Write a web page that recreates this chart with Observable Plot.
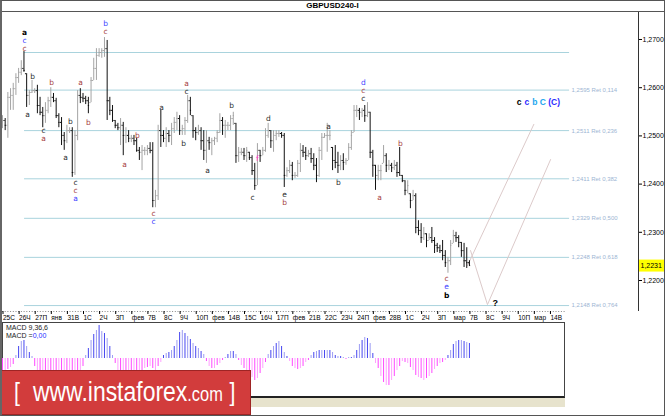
<!DOCTYPE html>
<html>
<head>
<meta charset="utf-8">
<script src="https://cdn.jsdelivr.net/npm/d3@7"></script>
<script src="https://cdn.jsdelivr.net/npm/@observablehq/plot@0.6"></script>
<style>
html,body{margin:0;padding:0;background:#fff;}
#chart{position:relative;width:665px;height:416px;overflow:hidden;background:#fff;font-family:"Liberation Sans",Arial,sans-serif;}
#chart > *{position:absolute;}
#border{left:0;top:0;width:665px;height:416px;box-sizing:border-box;border:1px solid #555;border-left:2px solid #666;z-index:5;pointer-events:none;}
#headline{left:0;top:11px;width:665px;height:1px;background:#555;}
#title{left:0;top:1px;width:665px;text-align:center;font-weight:bold;font-size:8px;line-height:10px;color:#000;}
#price{left:0;top:0;}
#macdbox{left:2px;top:322px;width:563px;height:76px;box-sizing:border-box;border:1px solid #444;border-bottom:2px solid #222;}
#beige{left:2px;top:398px;width:563px;height:9px;background:#e7e3cd;}
#macd{left:0;top:323px;}
#macdlabel{left:6px;top:324px;font-size:7px;line-height:7.5px;color:#222;white-space:nowrap;}
#banner{left:0;top:370px;z-index:4;}
</style>
</head>
<body>
<div id="chart">
  <div id="title">GBPUSD240-I</div>
  <div id="headline"></div>
  <div id="macdbox"></div>
  <div id="beige"></div>
  <div id="price"></div>
  <div id="macd"></div>
  <div id="macdlabel">MACD 9,36,6<br>MACD =<span style="color:#2a2aff">0,00</span></div>
  <svg id="banner" width="251" height="45">
    <rect x="0.5" y="0.5" width="250" height="44" fill="#d23c3c" stroke="#9e2424"></rect>
    <g transform="scale(0.82,1)">
      <text y="31" fill="#fff" font-family="Liberation Sans, Arial, sans-serif" font-size="28"><tspan x="17" font-size="26">[</tspan><tspan x="40.2">www.instaforex</tspan><tspan font-size="20">.com</tspan><tspan x="280" font-size="26">]</tspan></text>
    </g>
  </svg>
  <div id="border"></div>
</div>
<script>
// ---------- DATA (GBPUSD, H4 bars) ----------
const barsPerDay = 6;
const firstOpen = 1.2525;
const highs = [1.2542,1.2536,1.2590,1.2598,1.2609,1.2629,1.2640,1.2656,1.2675,1.2629,
1.2594,1.2615,1.2598,1.2605,1.2580,1.2559,1.2569,1.2580,1.2600,1.2588,
1.2578,1.2546,1.2538,1.2507,1.2522,1.2517,1.2517,1.2511,1.2594,1.2598,
1.2588,1.2582,1.2580,1.2621,1.2661,1.2681,1.2681,1.2681,1.2704,1.2698,
1.2580,1.2563,1.2532,1.2526,1.2536,1.2528,1.2517,1.2511,1.2501,1.2501,
1.2495,1.2476,1.2480,1.2476,1.2480,1.2486,1.2486,1.2387,1.2522,1.2553,
1.2511,1.2517,1.2511,1.2526,1.2538,1.2549,1.2542,1.2522,1.2538,1.2584,
1.2580,1.2542,1.2517,1.2522,1.2517,1.2511,1.2511,1.2497,1.2495,1.2497,
1.2511,1.2546,1.2538,1.2532,1.2528,1.2542,1.2549,1.2526,1.2476,1.2474,
1.2474,1.2476,1.2466,1.2459,1.2443,1.2484,1.2470,1.2476,1.2515,1.2526,
1.2511,1.2511,1.2511,1.2511,1.2507,1.2505,1.2434,1.2449,1.2445,1.2424,
1.2449,1.2484,1.2480,1.2476,1.2470,1.2474,1.2463,1.2453,1.2476,1.2505,
1.2505,1.2526,1.2511,1.2476,1.2480,1.2466,1.2459,1.2463,1.2453,1.2484,
1.2511,1.2563,1.2563,1.2557,1.2557,1.2563,1.2569,1.2549,1.2470,1.2439,
1.2439,1.2439,1.2480,1.2463,1.2449,1.2443,1.2449,1.2445,1.2476,1.2418,
1.2407,1.2407,1.2380,1.2387,1.2380,1.2324,1.2318,1.2310,1.2297,1.2297,
1.2310,1.2289,1.2277,1.2273,1.2283,1.2262,1.2248,1.2283,1.2304,1.2300,
1.2293,1.2279,1.2277,1.2268,1.2241];
const lows = [1.2515,1.2511,1.2495,1.2553,1.2553,1.2584,1.2609,1.2625,1.2632,1.2559,
1.2563,1.2588,1.2588,1.2546,1.2542,1.2517,1.2526,1.2546,1.2559,1.2569,
1.2536,1.2517,1.2480,1.2470,1.2484,1.2505,1.2414,1.2418,1.2490,1.2567,
1.2569,1.2565,1.2546,1.2569,1.2615,1.2615,1.2663,1.2661,1.2663,1.2532,
1.2542,1.2528,1.2515,1.2511,1.2480,1.2459,1.2484,1.2486,1.2486,1.2480,
1.2466,1.2449,1.2428,1.2459,1.2459,1.2463,1.2351,1.2351,1.2366,1.2476,
1.2486,1.2476,1.2486,1.2480,1.2505,1.2511,1.2501,1.2501,1.2501,1.2526,
1.2542,1.2495,1.2490,1.2501,1.2470,1.2449,1.2443,1.2470,1.2459,1.2480,
1.2486,1.2505,1.2501,1.2495,1.2511,1.2511,1.2522,1.2443,1.2445,1.2459,
1.2449,1.2445,1.2449,1.2418,1.2387,1.2397,1.2445,1.2459,1.2466,1.2495,
1.2474,1.2466,1.2490,1.2497,1.2495,1.2393,1.2414,1.2422,1.2407,1.2412,
1.2414,1.2424,1.2455,1.2449,1.2455,1.2443,1.2428,1.2403,1.2414,1.2449,
1.2495,1.2466,1.2490,1.2428,1.2432,1.2422,1.2428,1.2428,1.2439,1.2449,
1.2470,1.2507,1.2538,1.2532,1.2538,1.2528,1.2538,1.2453,1.2414,1.2387,
1.2407,1.2407,1.2443,1.2424,1.2428,1.2424,1.2428,1.2414,1.2418,1.2403,
1.2376,1.2380,1.2349,1.2366,1.2297,1.2293,1.2277,1.2283,1.2268,1.2283,
1.2277,1.2256,1.2258,1.2256,1.2241,1.2227,1.2215,1.2231,1.2277,1.2279,
1.2268,1.2248,1.2227,1.2225,1.2231];
const closes = [1.2532,1.2522,1.2580,1.2584,1.2598,1.2621,1.2632,1.2640,1.2636,1.2584,
1.2590,1.2594,1.2594,1.2563,1.2549,1.2542,1.2553,1.2573,1.2580,1.2573,
1.2542,1.2528,1.2501,1.2490,1.2511,1.2511,1.2424,1.2501,1.2584,1.2580,
1.2578,1.2573,1.2563,1.2615,1.2640,1.2667,1.2673,1.2677,1.2681,1.2573,
1.2553,1.2532,1.2522,1.2517,1.2522,1.2501,1.2501,1.2495,1.2495,1.2490,
1.2470,1.2466,1.2470,1.2470,1.2474,1.2470,1.2366,1.2376,1.2511,1.2501,
1.2495,1.2505,1.2501,1.2515,1.2528,1.2536,1.2511,1.2515,1.2532,1.2573,
1.2553,1.2511,1.2507,1.2511,1.2490,1.2470,1.2490,1.2486,1.2490,1.2495,
1.2507,1.2532,1.2522,1.2522,1.2522,1.2536,1.2542,1.2459,1.2466,1.2466,
1.2459,1.2470,1.2455,1.2428,1.2397,1.2470,1.2459,1.2470,1.2501,1.2511,
1.2490,1.2501,1.2505,1.2505,1.2501,1.2418,1.2428,1.2439,1.2418,1.2418,
1.2443,1.2470,1.2466,1.2459,1.2463,1.2453,1.2439,1.2418,1.2470,1.2497,
1.2501,1.2501,1.2501,1.2449,1.2445,1.2439,1.2449,1.2445,1.2449,1.2476,
1.2501,1.2553,1.2553,1.2549,1.2553,1.2542,1.2549,1.2466,1.2439,1.2418,
1.2428,1.2428,1.2459,1.2439,1.2439,1.2434,1.2439,1.2424,1.2418,1.2407,
1.2387,1.2397,1.2366,1.2376,1.2310,1.2304,1.2289,1.2297,1.2283,1.2289,
1.2283,1.2273,1.2268,1.2262,1.2252,1.2237,1.2241,1.2273,1.2293,1.2289,
1.2279,1.2262,1.2241,1.2237,1.2231];
// MACD(9,36,6) histogram, in units of 0.0001
const macdHist = [-12,-12,-11,-9,-6,3,12,17,18,12,
6,2,-8,-13,-15,-16,-17,-17,-16,-16,
-17,-18,-19,-20,-20,-20,-22,-20,-16,-12,
-8,3,10,18,24,28,33,27,25,20,
12,3,-5,-12,-15,-17,-18,-18,-17,-16,
-15,-13,-12,-10,-9,-8,-10,-12,-8,-4,
3,5,6,8,12,18,26,28,25,22,
19,15,12,10,7,4,-3,-8,-10,-10,
-7,-5,-2,1,4,7,7,4,-2,-7,
-10,-13,-16,-19,-22,-20,-15,-10,-4,4,
8,12,15,17,12,6,2,-3,-8,-10,
-11,-10,-8,-4,-2,3,6,7,8,8,
8,8,8,6,3,2,2,1,-1,1,
1,3,8,14,18,21,20,15,5,-5,
-10,-18,-24,-27,-27,-22,-18,-12,-8,-3,
-4,-5,-9,-12,-17,-19,-20,-22,-20,-18,
-15,-11,-8,-5,-4,-2,3,8,14,17,
18,18,17,16,15];
const dayLabels = ["25С","26Ч","27П","янв","31В","1С","2Ч","3П","фев","7В","8С","9Ч","10П","фев","14В",
"15С","16Ч","17П","фев","21В","22С","23Ч","24П","фев","28В","1С","2Ч","3П","мар","7В","8С","9Ч","10П","мар","14В"];
const priceTicks = [1.27, 1.26, 1.25, 1.24, 1.23, 1.22];
const fibPrices = [1.2673, 1.2595, 1.2511, 1.2411, 1.2329, 1.2248, 1.2148];
const fibRatios = [null, "0,114", "0,236", "0,382", "0,500", "0,618", "0,764"];
const fibStartDay = 1.37, fibEndDay = 35.22;
const lastPrice = 1.2231;
// Elliott wave labels: text, bar index, price, degree
const waveText  = ["a","c","c","b","a","c","a","b","b","a","c","c","a","a","b","b","c","b","a","c","c","a","c","a","b","a","b","c","f","d","e","b","a","b","d","c","c","a","b","c","e","b"];
const waveBar   = [8.2,8.2,8.2,11.2,9.3,15.3,15.3,18.3,25.3,23.5,27.2,27.2,27.2,29.1,32,38.4,38.4,50.3,45.5,56.3,56.3,59.3,68.6,68.6,67.5,76.4,85.4,93.2,95,99.1,105.1,105.1,121.5,125.2,134.5,134.5,134.5,140.5,148.3,165.5,165.5,165.5];
const wavePrice = [1.2715,1.2698,1.2681,1.2623,1.2544,1.2511,1.2495,1.2611,1.2530,1.2455,1.2403,1.2387,1.2370,1.2611,1.2528,1.2733,1.2717,1.2501,1.2441,1.2339,1.2322,1.2559,1.2592,1.2609,1.2484,1.2428,1.2563,1.2372,1.2453,1.2536,1.2378,1.2362,1.2519,1.2404,1.2611,1.2594,1.2578,1.2372,1.2484,1.2204,1.2188,1.2169];
const waveDegree= ["K","u","r","k","k","k","r","r","k","k","k","r","u","r","r","u","r","r","r","r","u","k","k","r","k","k","k","k","m","k","k","r","k","k","u","r","k","r","r","r","u","K"];
// forecast
const targetText = ["c","c","b","C","(C)"];
const targetAt = {day: 32.09, price: 1.2569};
const questionAt = {day: 30.6, price: 1.2154};
const projA = [{day: 28.88, price: 1.2231}, {day: 33.0, price: 1.2524}];
const projB = [{day: 29.07, price: 1.2262}, {day: 30.12, price: 1.2150}, {day: 34.04, price: 1.2451}];

// ---------- BUILD ----------
const fmt = p => p.toFixed(4).replace(".", ",");
const xMax = 39.5;
const yDomain = [1.21357, 1.27560];
const dateAxisEnd = 34.97;
const bars = highs.map((h, k) => {
  const l = lows[k], c = closes[k];
  const o0 = k ? closes[k - 1] : firstOpen;
  const o = Math.max(l, Math.min(h, o0));
  return {t: k / barsPerDay, h, l, o, c};
});
const up = bars.filter(b => b.c >= b.o), down = bars.filter(b => b.c < b.o);
const tk = 0.075;
const fibRows = fibPrices.map((price, i) => ({price, ratio: fibRatios[i]}));
const waveRows = waveText.map((s, i) => ({s, t: waveBar[i] / barsPerDay, p: wavePrice[i], g: waveDegree[i]}));
const degreeColor = {k: "#2a2a2a", r: "#a53c3c", u: "#3d3dff", m: "#ff30d0", K: "#000"};
const targetColors = ["#000", "#2b2bff", "#22a6ee", "#22a6ee", "#2b2bff"];
const targetDx = [0, 7.6, 15.6, 23.6, 35];

const barMarks = (rows, color) => [
  Plot.ruleX(rows, {x: "t", y1: "l", y2: "h", stroke: color}),
  Plot.ruleY(rows, {y: "o", x1: d => d.t - tk, x2: "t", stroke: color}),
  Plot.ruleY(rows, {y: "c", x1: "t", x2: d => d.t + tk, stroke: color})
];

const price = Plot.plot({
  width: 665, height: 323,
  marginTop: 12, marginBottom: 12, marginLeft: 2, marginRight: 27,
  x: {domain: [0, xMax], label: null, axis: null},
  y: {domain: yDomain, label: null, axis: null},
  style: {background: "transparent", fontFamily: "Liberation Sans, Arial, sans-serif", overflow: "visible"},
  marks: [
    Plot.ruleY(fibRows, {y: "price", x1: () => fibStartDay, x2: () => fibEndDay, stroke: "#a9d3dd"}),
    Plot.text(fibRows.filter(r => r.ratio), {x: () => fibEndDay, y: "price", text: r => `${fmt(r.price)} Ret ${r.ratio}`,
      textAnchor: "start", dx: 2, fontSize: 6, fill: "#9db5d3"}),
    Plot.line(projA, {x: "day", y: "price", stroke: "#dccaca", strokeWidth: 1}),
    Plot.line(projB, {x: "day", y: "price", stroke: "#dccaca", strokeWidth: 1}),
    ...barMarks(up, "#a4a4a4"),
    ...barMarks(down, "#111"),
    Plot.ruleY([lastPrice], {x1: () => xMax, x2: () => xMax + 27 / 16.1, stroke: "#ffff00", strokeWidth: 12}),
    Plot.ruleX([xMax], {stroke: "#333"}),
    Plot.axisY({ticks: priceTicks, anchor: "right", tickSize: 3, tickPadding: 1, tickFormat: fmt, fontSize: 7, label: null}),
    Plot.text([lastPrice], {x: () => xMax, y: d => d, text: d => fmt(d), textAnchor: "start", dx: 2, fontSize: 7, fill: "#000"}),
    Plot.ruleY([yDomain[0]], {x1: () => 0, x2: () => dateAxisEnd, stroke: "#888", strokeDasharray: "1,1.7"}),
    Plot.axisX({ticks: d3.range(dayLabels.length), tickFormat: i => dayLabels[i], anchor: "bottom", tickSize: 3, tickPadding: 1,
      textAnchor: "start", dx: 0.5, fontSize: 6.5, label: null}),
    ...Object.entries(degreeColor).map(([g, c]) => Plot.text(waveRows.filter(d => d.g === g),
      {x: "t", y: "p", text: "s", fill: c, fontSize: 7.5, fontFamily: "DejaVu Sans, sans-serif", fontWeight: g === "K" ? "bold" : "normal"})),
    ...targetText.map((s, i) => Plot.text([targetAt], {x: "day", y: "price", text: () => s, fill: targetColors[i],
      dx: targetDx[i], fontSize: 8.5, fontWeight: "bold"})),
    Plot.text([questionAt], {x: "day", y: "price", text: () => "?", fontWeight: "bold", fontSize: 9, fill: "#000"})
  ]
});
document.getElementById("price").appendChild(price);

const macdRows = macdHist.map((v, k) => ({t: k / barsPerDay, v, k}));
const macdColors = [["#4646f0", "#9c9cf3"], ["#ff48ff", "#ffa0ff"]];
const macd = Plot.plot({
  width: 665, height: 75,
  marginTop: 0, marginBottom: 0, marginLeft: 2, marginRight: 27,
  x: {domain: [0, xMax], axis: null},
  y: {domain: [-40, 35], axis: null},
  style: {background: "transparent", overflow: "visible"},
  marks: [0, 1].flatMap(neg => [0, 1].map(odd =>
    Plot.ruleX(macdRows.filter(d => (neg ? d.v < 0 : d.v > 0) && d.k % 2 === odd),
      {x: "t", y1: () => 0, y2: "v", stroke: macdColors[neg][odd]})))
});
document.getElementById("macd").appendChild(macd);
</script>
</body>
</html>
